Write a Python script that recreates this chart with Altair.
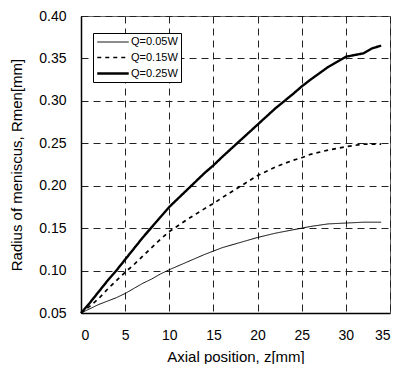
import altair as alt
import pandas as pd

# Data
z_a = [0, 1, 2, 3, 4, 5, 6, 7, 8, 9, 10, 12, 14, 15, 16, 18, 20, 22, 24, 25, 26, 28, 30, 32, 34]
r_005 = [0.050, 0.055, 0.060, 0.064, 0.068, 0.073, 0.079, 0.085, 0.090, 0.096, 0.101, 0.110, 0.119,
         0.123, 0.127, 0.133, 0.139, 0.144, 0.148, 0.150, 0.152, 0.155, 0.156, 0.157, 0.157]
r_015 = [0.050, 0.058, 0.067, 0.078, 0.088, 0.098, 0.107, 0.117, 0.127, 0.137, 0.146, 0.160, 0.173,
         0.179, 0.186, 0.199, 0.212, 0.222, 0.230, 0.233, 0.237, 0.242, 0.246, 0.249, 0.249]
z_c = [0, 1, 2, 3, 4, 5, 6, 7, 8, 9, 10, 12, 14, 15, 16, 18, 20, 22, 24, 25, 26, 28, 30, 31, 32, 33, 34]
r_025 = [0.050, 0.062, 0.075, 0.088, 0.100, 0.113, 0.126, 0.139, 0.151, 0.163, 0.175, 0.195, 0.215,
         0.224, 0.234, 0.253, 0.272, 0.291, 0.308, 0.317, 0.325, 0.340, 0.352, 0.354, 0.356, 0.362, 0.365]

series = ["Q=0.05W", "Q=0.15W", "Q=0.25W"]
x_ticks = [0, 5, 10, 15, 20, 25, 30, 35]
y_ticks = [0.05, 0.10, 0.15, 0.20, 0.25, 0.30, 0.35, 0.40]

rows = []
for z, r in zip(z_a, r_005):
    rows.append({"z": z, "r": r, "Q": series[0]})
for z, r in zip(z_a, r_015):
    rows.append({"z": z, "r": r, "Q": series[1]})
for z, r in zip(z_c, r_025):
    rows.append({"z": z, "r": r, "Q": series[2]})
df = pd.DataFrame(rows)

FONT = "Liberation Sans"

legend = alt.Legend(
    title=None, orient="none", legendX=12, legendY=17,
    symbolType="M-1,0H5", symbolSize=110, labelOffset=22,
    labelFont=FONT, labelFontSize=11, labelColor="black",
    strokeColor="black", fillColor="white", padding=3,
    rowPadding=4, symbolStrokeColor="black",
)

chart = alt.Chart(df).mark_line(color="black").encode(
    x=alt.X("z:Q", scale=alt.Scale(domain=[0, 35], nice=False, zero=False),
            axis=alt.Axis(values=x_ticks, title="Axial position, z[mm]", format="d",
                          grid=True, titleY=36)),
    y=alt.Y("r:Q", scale=alt.Scale(domain=[0.05, 0.40], nice=False, zero=False),
            axis=alt.Axis(values=y_ticks, title="Radius of meniscus, Rmen[mm]", format=".2f",
                          grid=True, titleX=-57)),
    strokeDash=alt.StrokeDash("Q:N", scale=alt.Scale(domain=series, range=[[1, 0], [4, 4], [1, 0]]),
                              legend=legend),
    strokeWidth=alt.StrokeWidth("Q:N", scale=alt.Scale(domain=series, range=[1, 2.4, 2.6]),
                                legend=legend),
    detail="Q:N",
).properties(
    width=309, height=297,
    autosize=alt.AutoSizeParams(type="none"),
    padding={"left": 73, "top": 8, "right": 1, "bottom": 51},
).configure_view(
    stroke="#666", strokeWidth=1,
).configure_axis(
    labelFont=FONT, labelFontSize=14, labelColor="black",
    titleFont=FONT, titleFontSize=15, titleFontWeight="normal", titleColor="black",
    domainColor="black", domainWidth=1.5, tickSize=0, labelPadding=15,
    gridColor="#222", gridDash=[7, 5], gridWidth=1, gridOpacity=1,
)

chart.save("out.html", embed_options={"renderer": "svg", "actions": False})
